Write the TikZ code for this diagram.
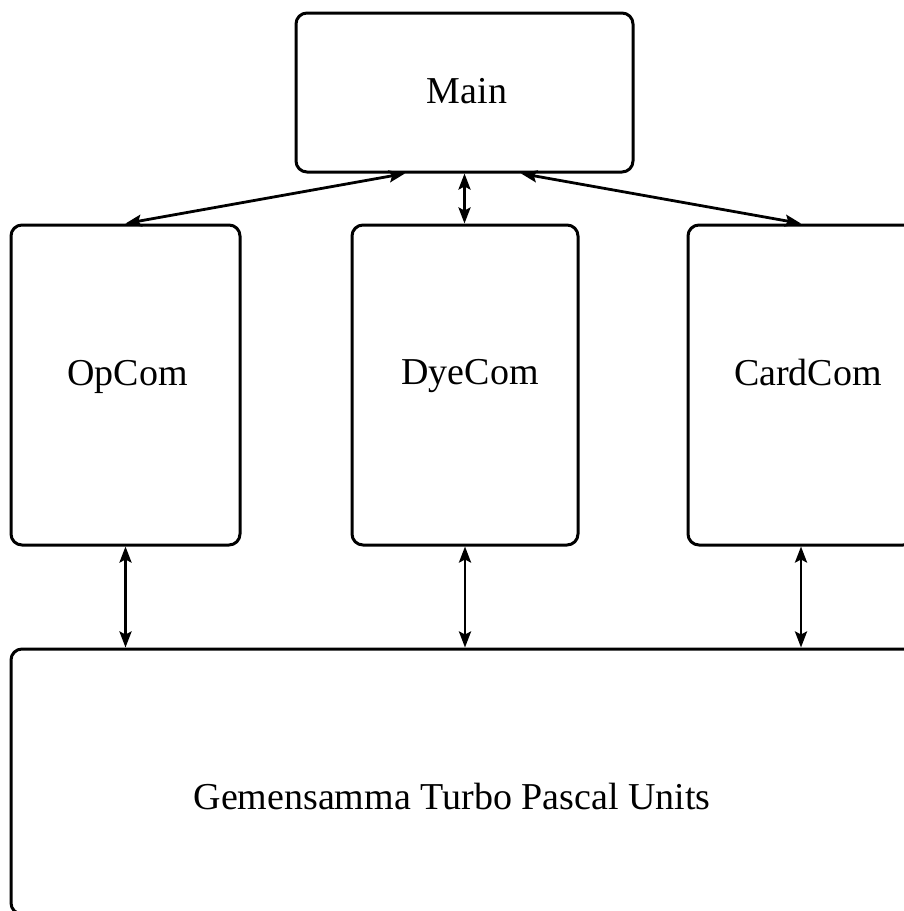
\documentclass[tikz,border=0pt]{standalone}
\usepackage{fontspec}
\setmainfont{Liberation Serif}
\usetikzlibrary{arrows.meta}
\begin{document}
\begin{tikzpicture}[x=1pt,y=-1pt,
  box/.style={draw, line width=3pt, rounded corners=11pt, inner sep=0pt},
  lbl/.style={font=\fontsize{38}{42}\selectfont, inner sep=0pt, anchor=base},
  link/.style={line width=2.8pt, {Stealth[length=16pt,width=12pt,inset=3pt]}-{Stealth[length=16pt,width=12pt,inset=3pt]}}]
\useasboundingbox (0,0) rectangle (904,911);
\clip (0,0) rectangle (904,911);
\fill[white] (0,0) rectangle (904,911);
\node[box, minimum width=337pt, minimum height=159pt] (main) at (464.5,92.5) {};
\node[lbl] (tmain) at (467,103) {Main};
\node[box, minimum width=229pt, minimum height=320pt] (opcom) at (125.5,385) {};
\node[lbl] (topcom) at (127.5,385) {OpCom};
\node[box, minimum width=226pt, minimum height=320pt] (dyecom) at (465,385) {};
\node[lbl] (tdyecom) at (470,384) {DyeCom};
\node[box, minimum width=226pt, minimum height=320pt] (cardcom) at (801,385) {};
\node[lbl] (tcardcom) at (808,385) {CardCom};
\node[box, minimum width=1000pt, minimum height=265pt] (gem) at (511,781.5) {};
\node[lbl] (tgem) at (452,809) {Gemensamma Turbo Pascal Units};
\draw[link] ([xshift=-59.5pt]main.south) -- (opcom.north);
\draw[link] (main.south) -- (main.south |- dyecom.north);
\draw[link] ([xshift=56.5pt]main.south) -- (cardcom.north);
\draw[link] (opcom.south) -- (opcom.south |- gem.north);
\draw[link] (dyecom.south) -- (dyecom.south |- gem.north);
\draw[link] (cardcom.south) -- (cardcom.south |- gem.north);
\end{tikzpicture}
\end{document}
